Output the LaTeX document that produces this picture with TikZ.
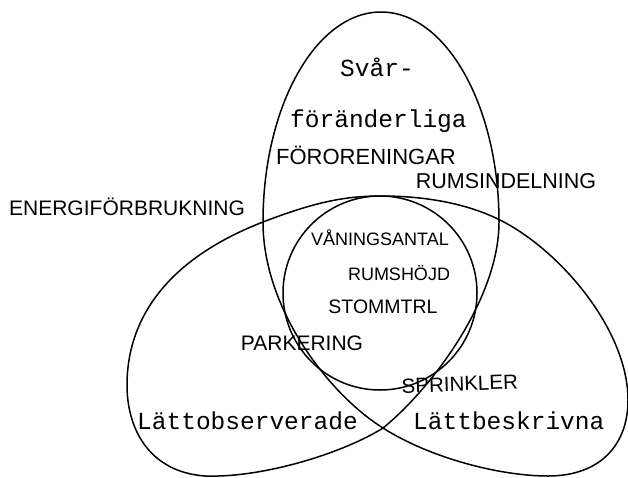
\documentclass[tikz,border=0pt]{standalone}
\usepackage{fontspec}
\newfontfamily\typfont{Liberation Mono}
\newfontfamily\handfont{Liberation Sans}

\tikzset{
  typtext/.style={font=\typfont\fontsize{24.5}{24.5}\selectfont, anchor=base west, inner sep=0pt},
  hand/.style={font=\handfont\fontsize{#1}{#1}\selectfont, anchor=base, inner sep=0pt},
  hand/.default=21,
  mangd/.style={line width=1.5pt, line join=round}
}

\begin{document}
\begin{tikzpicture}[x=1pt, y=-1pt]
  \useasboundingbox (0,0) rectangle (628,477);

  % 交点
  \coordinate (vkryss) at (263,222);
  \coordinate (kryss) at (383,428);
  \coordinate (mitt) at (380,293);

  % 三个集合 (一条自交的闭合曲线)
  \draw[mangd] (vkryss)
    .. controls (263,106) and (316,12) .. (381,12)
    .. controls (446,12) and (499,106) .. (499,222)
    .. controls (499,300) and (430,390) .. (kryss)
    .. controls (345,452) and (265,478) .. (205,476)
    .. controls (150,472) and (127,430) .. (127,385)
    .. controls (127,325) and (160,262) .. (vkryss)
    .. controls (315,202) and (345,196) .. (381,196)
    .. controls (430,196) and (470,205) .. (500,220)
    .. controls (560,250) and (628,330) .. (628,400)
    .. controls (628,445) and (600,476) .. (548,476)
    .. controls (500,476) and (430,458) .. (kryss)
    .. controls (330,395) and (263,310) .. (vkryss);

  % 内圈
  \draw[mangd] (mitt) circle[radius=97];

  % 打字机文字
  \node[typtext] (svar) at (340,76) {Svår-};
  \node[typtext] (forand) at (290,127) {föränderliga};
  \node[typtext] (lattobs) at (137,429) {Lättobserverade};
  \node[typtext] (lattbesk) at (413,429) {Lättbeskrivna};

  % 手写文字
  \node[hand=22] (fororen) at (366,164) {FÖRORENINGAR};
  \node[hand=21.5] (rumsindel) at (506,188) {RUMSINDELNING};
  \node[hand=21] (energi) at (127,215) {ENERGIFÖRBRUKNING};
  \node[hand=18] (vaning) at (380,245) {VÅNINGSANTAL};
  \node[hand=18] (rumshojd) at (399,280) {RUMSHÖJD};
  \node[hand=19.5] (stomme) at (383,313) {STOMMTRL};
  \node[hand=21] (parkering) at (302,350) {PARKERING};
  \node[hand=20.5, rotate=2] (sprinkler) at (460,391) {SPRINKLER};
\end{tikzpicture}
\end{document}
